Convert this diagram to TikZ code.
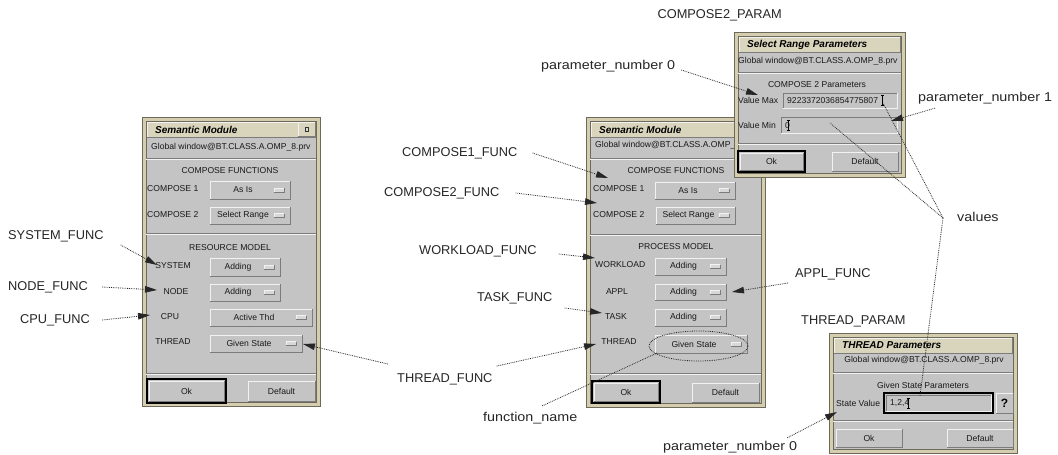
\documentclass[tikz,border=0pt]{standalone}
\usepackage{fontspec}
\setmainfont{Liberation Sans}
\newfontfamily\widesans[FakeStretch=1.12]{Liberation Sans}
\usetikzlibrary{arrows.meta}

\definecolor{wingray}{HTML}{C4C4C4}
\definecolor{framebeige}{HTML}{D4CDB0}
\definecolor{framedark}{HTML}{6E6A5A}
\definecolor{titlebeige}{HTML}{D9D4BC}
\definecolor{edgelight}{HTML}{F2F2F2}
\definecolor{edgedark}{HTML}{7C7C7C}
\definecolor{indgray}{HTML}{D8D8D8}
\definecolor{labelink}{HTML}{262626}

\tikzset{
  lbl/.style={font=\fontsize{12.8}{15}\selectfont, text=labelink, inner sep=0pt},
  wlbl/.style={font=\widesans\fontsize{12.8}{15}\selectfont, text=labelink, inner sep=0pt},
  wtxt/.style={font=\fontsize{8.6}{10}\selectfont, text=black!90, inner sep=0pt},
  wtitle/.style={font=\fontsize{10}{12}\selectfont\bfseries\itshape, inner sep=0pt, anchor=west},
  callout/.style={densely dotted, line width=0.8pt, draw=black!85,
    -{Triangle[length=12pt,width=6.5pt]}},
  plainlink/.style={densely dotted, line width=0.8pt, draw=black!85},
}

% raised bevelled box: [fill]{x1}{y1}{x2}{y2}
\newcommand{\bevelup}[5][wingray]{%
  \fill[#1] ({#2},{#3}) rectangle ({#4},{#5});
  \draw[edgelight, line width=1pt] ({#2},{#5}) -- ({#2},{#3}) -- ({#4},{#3});
  \draw[edgedark, line width=1pt] ({#2},{#5}) -- ({#4},{#5}) -- ({#4},{#3});
}
% sunken bevelled box
\newcommand{\beveldown}[5][wingray]{%
  \fill[#1] ({#2},{#3}) rectangle ({#4},{#5});
  \draw[edgedark, line width=1pt] ({#2},{#5}) -- ({#2},{#3}) -- ({#4},{#3});
  \draw[edgelight, line width=1pt] ({#2},{#5}) -- ({#4},{#5}) -- ({#4},{#3});
}
% etched separator: {x1}{x2}{y}
\newcommand{\groove}[3]{%
  \draw[edgedark, line width=0.8pt] ({#1},{#3}) -- ({#2},{#3});
  \draw[edgelight, line width=0.8pt] ({#1},{#3+1}) -- ({#2},{#3+1});
}
% dialog window: {name}{x1}{y1}{x2}{y2}{title}
\newcommand{\guiwin}[6]{%
  \fill[framebeige] ({#2},{#3}) rectangle ({#4},{#5});
  \draw[framedark, line width=0.8pt] ({#2},{#3}) rectangle ({#4},{#5});
  \fill[wingray] ({#2+4},{#3+4}) rectangle ({#4-4},{#5-4});
  \draw[framedark, line width=0.5pt] ({#2+4},{#3+4}) rectangle ({#4-4},{#5-4});
  \bevelup[titlebeige]{#2+5}{#3+5}{#4-5}{#3+20}
  \node[wtitle] (#1) at ({#2+13},{#3+12.5}) {#6};
}
% option menu button: {name}{x1}{y1}{x2}{y2}{text}
\newcommand{\optmenu}[6]{%
  \bevelup{#2}{#3}{#4}{#5}
  \node[wtxt] (#1) at ({(#2+#4)/2-7},{(#3+#5)/2}) {#6};
  \bevelup[indgray]{#4-16}{(#3+#5)/2-2}{#4-6}{(#3+#5)/2+2}
}
% push button: {name}{x1}{y1}{x2}{y2}{text}
\newcommand{\pushbtn}[6]{%
  \bevelup{#2}{#3}{#4}{#5}
  \node[wtxt] (#1) at ({(#2+#4)/2},{(#3+#5)/2}) {#6};
}
% heavy focus frame
\newcommand{\focusframe}[4]{%
  \draw[black, line width=1.6pt] ({#1},{#2}) rectangle ({#3},{#4});
}
% text cursor at a point
\newcommand{\ibeam}[2]{%
  \draw[black, line width=0.5pt] ({#1},{#2-5}) -- ({#1},{#2+5})
    ({#1-1.5},{#2-5}) -- ({#1+1.5},{#2-5}) ({#1-1.5},{#2+5}) -- ({#1+1.5},{#2+5});
}

\begin{document}
\begin{tikzpicture}[x=1pt,y=-1pt]
\useasboundingbox (0,0) rectangle (1058,455);
\fill[white] (0,0) rectangle (1058,455);

% ---------------- Semantic Module (resource model) ----------------
\guiwin{Ltitle}{142}{117}{320}{406}{Semantic Module}
\bevelup[titlebeige]{298}{122}{315}{136}
\draw[black!80, fill=indgray, line width=0.6pt] (305,127.5) rectangle (308.5,131);
\node[wtxt, anchor=west] (Lglob) at (151,147) {Global window@BT.CLASS.A.OMP\_8.prv};
\groove{146}{316}{158}
\node[wtxt] (Lcf) at (230,171) {COMPOSE FUNCTIONS};
\node[wtxt, anchor=west] (Lc1) at (147,189) {COMPOSE 1};
\optmenu{Lc1m}{210}{181}{290}{199}{As Is}
\node[wtxt, anchor=west] (Lc2) at (147,215) {COMPOSE 2};
\optmenu{Lc2m}{210}{207}{290}{224}{Select Range}
\groove{146}{316}{233}
\node[wtxt] (Lrm) at (230,248) {RESOURCE MODEL};
\node[wtxt] (Lsys) at (173,266) {SYSTEM};
\optmenu{Lsysm}{210}{258}{280}{276}{Adding}
\node[wtxt] (Lnode) at (176,292) {NODE};
\optmenu{Lnodem}{210}{284}{280}{301}{Adding}
\node[wtxt] (Lcpu) at (170,317) {CPU};
\optmenu{Lcpum}{210}{309}{312}{326}{Active Thd}
\node[wtxt] (Lthr) at (173,342) {THREAD};
\optmenu{Lthrm}{210}{335}{302}{352}{Given State}
\groove{146}{316}{373}
\focusframe{147}{379}{226}{403}
\pushbtn{Lok}{149}{381}{224}{401}{Ok}
\pushbtn{Ldef}{248}{381}{315}{401}{Default}

% ---------------- Semantic Module (process model) ----------------
\guiwin{Mtitle}{586}{117}{765}{407}{Semantic Module}
\node[wtxt, anchor=west] (Mglob) at (595,145) {Global window@BT.CLASS.A.OMP\_8.prv};
\groove{590}{761}{158}
\node[wtxt] (Mcf) at (676,171) {COMPOSE FUNCTIONS};
\node[wtxt, anchor=west] (Mc1) at (593,189) {COMPOSE 1};
\optmenu{Mc1m}{655}{182}{735}{199}{As Is}
\node[wtxt, anchor=west] (Mc2) at (593,215) {COMPOSE 2};
\optmenu{Mc2m}{656}{207}{735}{224}{Select Range}
\groove{590}{761}{234}
\node[wtxt] (Mpm) at (676,247) {PROCESS MODEL};
\node[wtxt, anchor=west] (Mwl) at (595,265) {WORKLOAD};
\optmenu{Mwlm}{655}{258}{726}{275}{Adding}
\node[wtxt] (Mappl) at (617,292) {APPL};
\optmenu{Mapplm}{655}{284}{726}{300}{Adding}
\node[wtxt] (Mtask) at (616,317) {TASK};
\optmenu{Mtaskm}{655}{309}{726}{326}{Adding}
\node[wtxt] (Mthr) at (619,342) {THREAD};
\optmenu{Mthrm}{655}{335}{747}{353}{Given State}
\groove{590}{761}{373}
\focusframe{592}{381}{660}{403}
\pushbtn{Mok}{594}{383}{658}{401}{Ok}
\pushbtn{Mdef}{692}{383}{759}{402}{Default}

% ---------------- Select Range Parameters ----------------
\guiwin{Stitle}{734}{32}{905}{177}{Select Range Parameters}
\node[wtxt, anchor=west] (Sglob) at (738,61) {Global window@BT.CLASS.A.OMP\_8.prv};
\groove{738}{901}{72}
\node[wtxt] (Scp) at (817,85) {COMPOSE 2 Parameters};
\node[wtxt, anchor=west] (Smaxl) at (738,100) {Value Max};
\beveldown{783}{93}{897}{108}
\node[wtxt, anchor=west] (Smax) at (787,100.5) {9223372036854775807};
\ibeam{882}{100.5}
\node[wtxt, anchor=west] (Sminl) at (738,125) {Value Min};
\beveldown{781}{117}{897}{133}
\node[wtxt, anchor=west] (Smin) at (785,125.5) {0};
\ibeam{788}{125.5}
\groove{738}{901}{143}
\focusframe{738}{151}{805}{172}
\pushbtn{Sok}{740}{153}{803}{170}{Ok}
\pushbtn{Sdef}{832}{152}{898}{171}{Default}

% ---------------- THREAD Parameters ----------------
\guiwin{Ttitle}{829}{333}{1017}{453}{THREAD Parameters}
\node[wtxt] (Tglob) at (924,360) {Global window@BT.CLASS.A.OMP\_8.prv};
\groove{833}{1013}{372}
\node[wtxt] (Tgs) at (923,385) {Given State Parameters};
\node[wtxt, anchor=west] (Tsvl) at (836,403) {State Value};
\beveldown{886}{395}{991}{411}
\focusframe{884}{393}{993}{413}
\node[wtxt, anchor=west] (Tsv) at (890,403) {1,2,4};
\ibeam{908}{403}
\bevelup{996}{393}{1013}{413}
\node[font=\fontsize{12}{12}\selectfont\bfseries, inner sep=0pt] (Tq) at (1004.5,403) {?};
\groove{833}{1013}{420}
\pushbtn{Tok}{836}{429}{902}{447}{Ok}
\pushbtn{Tdef}{947}{429}{1013}{447}{Default}

% ---------------- annotation labels ----------------
\node[lbl, anchor=west] (sysF) at (8,236) {SYSTEM\_FUNC};
\node[lbl, anchor=west] (nodeF) at (8,287) {NODE\_FUNC};
\node[lbl, anchor=west] (cpuF) at (20,320) {CPU\_FUNC};
\node[lbl, anchor=west] (thrF) at (397,379) {THREAD\_FUNC};
\node[lbl, anchor=west] (c1F) at (402,153) {COMPOSE1\_FUNC};
\node[lbl, anchor=west] (c2F) at (384,193) {COMPOSE2\_FUNC};
\node[lbl, anchor=west] (wlF) at (419,251) {WORKLOAD\_FUNC};
\node[lbl, anchor=west] (taskF) at (477,298) {TASK\_FUNC};
\node[lbl, anchor=west] (applF) at (795,274) {APPL\_FUNC};
\node[wlbl, anchor=west] (fname) at (483,418) {function\_name};
\node[wlbl, anchor=west] (vals) at (957,217) {values};
\node[lbl, anchor=east] (c2P) at (782,15) {COMPOSE2\_PARAM};
\node[wlbl, anchor=west] (p0top) at (541,66) {parameter\_number 0};
\node[wlbl, anchor=west] (p1) at (918,98) {parameter\_number 1};
\node[lbl, anchor=west] (thrP) at (801,321) {THREAD\_PARAM};
\node[wlbl, anchor=west] (p0bot) at (663,447) {parameter\_number 0};

% ---------------- callout targets ----------------
\coordinate (sysT) at (157,265);
\coordinate (nodeT) at (157,290);
\coordinate (cpuT) at (150,315);
\coordinate (thrLT) at (303,344);
\coordinate (thrMT) at (596,344);
\coordinate (c1T) at (608,178);
\coordinate (c2T) at (597,203);
\coordinate (wlT) at (595,258);
\coordinate (taskT) at (602,313);
\coordinate (applT) at (732,292);
\coordinate (ellT) at (657,353);
\coordinate (p0topT) at (758,95);
\coordinate (p1T) at (891,121);
\coordinate (p0botT) at (837,412);
\coordinate (valsHub) at (943,218);
\coordinate (valMax) at (883,103);
\coordinate (valMin) at (830,123);
\coordinate (valThr) at (920,396);

% function name highlight
\draw[plainlink] (698.5,346) ellipse [x radius=49.5, y radius=15];

% ---------------- callouts ----------------
\draw[callout] ([shift={(17pt,-9pt)}]sysF.east) -- (sysT);
\draw[callout] ([xshift=14pt]nodeF.east) -- (nodeT);
\draw[callout] ([xshift=12pt]cpuF.east) -- (cpuT);
\draw[callout] ([shift={(-9pt,9pt)}]thrF.north west) -- (thrLT);
\draw[callout] ([shift={(4pt,7pt)}]thrF.north east) -- (thrMT);
\draw[callout] ([xshift=15pt]c1F.east) -- (c1T);
\draw[callout] ([xshift=16pt]c2F.east) -- (c2T);
\draw[callout] ([shift={(22pt,-3pt)}]wlF.east) -- (wlT);
\draw[callout] ([shift={(12pt,-10pt)}]taskF.east) -- (taskT);
\draw[callout] ([shift={(-7pt,-9pt)}]applF.west) -- (applT);
\draw[plainlink] ([shift={(12pt,6pt)}]fname.north) -- (ellT);
\draw[callout] ([shift={(6pt,-4pt)}]p0top.east) -- (p0topT);
\draw[callout] ([shift={(17pt,-4pt)}]p1.south west) -- (p1T);
\draw[callout] ([shift={(-10pt,3pt)}]p0bot.north east) -- (p0botT);
\draw[plainlink] (valsHub) -- (valMax);
\draw[plainlink] (valsHub) -- (valMin);
\draw[plainlink] (valsHub) -- (valThr);
\end{tikzpicture}
\end{document}
